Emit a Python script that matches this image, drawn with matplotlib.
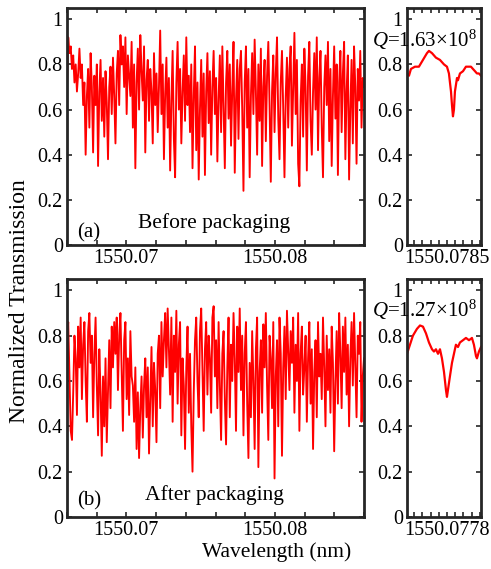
import numpy as np
import matplotlib
matplotlib.use("Agg")
import matplotlib.pyplot as plt
from matplotlib.ticker import FixedLocator, FixedFormatter

plt.rcParams['font.family'] = ['Liberation Serif', 'DejaVu Serif']
plt.rcParams['mathtext.fontset'] = 'custom'
plt.rcParams['mathtext.rm'] = 'Liberation Serif'
plt.rcParams['mathtext.it'] = 'Liberation Serif:italic'

# ---------------- data ----------------
wl_start, wl_end = 1550.065, 1550.085

trans_before = [
    0.70, 0.92, 0.85, 0.88, 0.78, 0.84, 0.72, 0.80, 0.68, 0.76, 0.87, 0.74, 0.80, 0.62, 0.72, 0.40, 0.66, 0.78, 0.52, 0.85,
    0.70, 0.41, 0.75, 0.62, 0.80, 0.35, 0.68, 0.82, 0.55, 0.74, 0.48, 0.77, 0.63, 0.38, 0.70, 0.79, 0.58, 0.83, 0.66, 0.45,
    0.76, 0.86, 0.62, 0.93, 0.80, 0.88, 0.70, 0.92, 0.58, 0.84, 0.75, 0.66, 0.90, 0.52, 0.80, 0.34, 0.72, 0.87, 0.60, 0.93,
    0.77, 0.64, 0.88, 0.41, 0.73, 0.82, 0.55, 0.78, 0.68, 0.45, 0.85, 0.62, 0.76, 0.50, 0.70, 0.95, 0.58, 0.80, 0.38, 0.67,
    0.83, 0.52, 0.74, 0.33, 0.64, 0.86, 0.47, 0.30, 0.72, 0.90, 0.60, 0.78, 0.45, 0.68, 0.84, 0.55, 0.92, 0.62, 0.75, 0.50,
    0.80, 0.34, 0.66, 0.88, 0.42, 0.72, 0.29, 0.60, 0.82, 0.48, 0.76, 0.31, 0.68, 0.85, 0.54, 0.77, 0.40, 0.70, 0.86, 0.58,
    0.74, 0.37, 0.65, 0.84, 0.50, 0.88, 0.62, 0.34, 0.72, 0.86, 0.56, 0.80, 0.44, 0.69, 0.90, 0.32, 0.64, 0.82, 0.47, 0.78,
    0.86, 0.60, 0.24, 0.72, 0.88, 0.52, 0.78, 0.30, 0.66, 0.85, 0.58, 0.91, 0.68, 0.40, 0.80, 0.55, 0.87, 0.35, 0.70, 0.82,
    0.46, 0.75, 0.90, 0.62, 0.28, 0.68, 0.84, 0.50, 0.76, 0.92, 0.56, 0.38, 0.72, 0.86, 0.60, 0.30, 0.66, 0.83, 0.52, 0.78,
    0.88, 0.44, 0.70, 0.94, 0.58, 0.82, 0.36, 0.26, 0.64, 0.80, 0.48, 0.87, 0.70, 0.33, 0.75, 0.90, 0.55, 0.40, 0.68, 0.85,
    0.60, 0.92, 0.42, 0.74, 0.86, 0.52, 0.30, 0.70, 0.84, 0.62, 0.90, 0.46, 0.78, 0.35, 0.66, 0.88, 0.56, 0.80, 0.31, 0.72,
    0.86, 0.50, 0.76, 0.90, 0.38, 0.68, 0.84, 0.29, 0.60, 0.82, 0.45, 0.88, 0.70, 0.36, 0.78, 0.64, 0.86, 0.52, 0.74, 0.70,
]

trans_after = [
    0.78, 0.86, 0.62, 0.38, 0.34, 0.55, 0.80, 0.70, 0.45, 0.84, 0.66, 0.88, 0.52, 0.76, 0.86, 0.60, 0.42, 0.82, 0.90, 0.68,
    0.80, 0.44, 0.72, 0.88, 0.58, 0.36, 0.74, 0.55, 0.27, 0.62, 0.40, 0.70, 0.33, 0.56, 0.78, 0.48, 0.84, 0.66, 0.86, 0.72,
    0.88, 0.56, 0.80, 0.90, 0.64, 0.38, 0.78, 0.86, 0.52, 0.70, 0.45, 0.82, 0.62, 0.58, 0.42, 0.66, 0.30, 0.55, 0.26, 0.48,
    0.62, 0.35, 0.58, 0.70, 0.44, 0.66, 0.28, 0.52, 0.75, 0.40, 0.68, 0.56, 0.33, 0.72, 0.80, 0.48, 0.86, 0.62, 0.78, 0.90,
    0.66, 0.92, 0.74, 0.54, 0.88, 0.42, 0.80, 0.64, 0.91, 0.50, 0.76, 0.86, 0.36, 0.70, 0.58, 0.30, 0.66, 0.84, 0.46, 0.72,
    0.40, 0.20, 0.55, 0.78, 0.88, 0.60, 0.44, 0.82, 0.92, 0.66, 0.38, 0.74, 0.86, 0.54, 0.80, 0.70, 0.46, 0.88, 0.93, 0.62,
    0.78, 0.48, 0.86, 0.58, 0.34, 0.72, 0.82, 0.52, 0.32, 0.66, 0.88, 0.44, 0.76, 0.60, 0.90, 0.70, 0.38, 0.84, 0.64, 0.92,
    0.56, 0.80, 0.36, 0.72, 0.86, 0.50, 0.26, 0.68, 0.44, 0.82, 0.60, 0.30, 0.74, 0.88, 0.22, 0.64, 0.78, 0.46, 0.85, 0.66,
    0.90, 0.58, 0.34, 0.80, 0.70, 0.48, 0.86, 0.17, 0.62, 0.78, 0.40, 0.88, 0.72, 0.27, 0.66, 0.84, 0.52, 0.91, 0.74, 0.56,
    0.82, 0.68, 0.88, 0.46, 0.76, 0.60, 0.90, 0.38, 0.72, 0.84, 0.54, 0.66, 0.80, 0.42, 0.70, 0.86, 0.50, 0.74, 0.30, 0.64,
    0.78, 0.44, 0.86, 0.62, 0.72, 0.52, 0.88, 0.66, 0.40, 0.80, 0.56, 0.74, 0.46, 0.84, 0.68, 0.29, 0.60, 0.82, 0.50, 0.90,
    0.72, 0.48, 0.84, 0.64, 0.88, 0.54, 0.76, 0.40, 0.70, 0.86, 0.58, 0.90, 0.66, 0.44, 0.80, 0.72, 0.86, 0.42, 0.62, 0.70,
]

# zoomed resonance, before packaging (offset in fm from centre wavelength)
zoom_a_center = 1550.0785
zoom_a_offset_fm = [-48.6, -46.2, -43.8, -38.9, -34.1, -29.2, -24.3, -21.9, -18.2, -13.4, -8.5, -3.6, 0.0,
                    2.4, 4.9, 6.1, 7.3, 8.5, 9.7, 12.2, 13.4, 15.8, 19.5, 23.1, 25.5, 29.2, 31.6, 34.1, 36.5, 38.9, 41.4]
zoom_a_trans = [0.76, 0.75, 0.78, 0.79, 0.79, 0.82, 0.85, 0.86, 0.85, 0.83, 0.82, 0.80, 0.79,
                0.76, 0.68, 0.62, 0.57, 0.60, 0.68, 0.74, 0.73, 0.76, 0.77, 0.79, 0.79, 0.79, 0.78, 0.77, 0.76, 0.76, 0.75]

# zoomed resonance, after packaging
zoom_b_center = 1550.0778
zoom_b_px = [407, 410, 413, 417, 420, 423, 426, 429, 432, 434, 436, 438, 440, 442, 444, 446, 447,
             448, 450, 452, 454, 456, 458, 460, 463, 466, 469, 472, 474, 476, 477, 479, 481]
zoom_b_offset_fm = [round((p - 447) * 1.2162, 1) for p in zoom_b_px]
zoom_b_trans = [0.72, 0.76, 0.80, 0.83, 0.845, 0.84, 0.81, 0.77, 0.74, 0.73, 0.74, 0.72, 0.74, 0.70, 0.64, 0.56, 0.53,
                0.56, 0.62, 0.68, 0.72, 0.76, 0.75, 0.77, 0.78, 0.79, 0.78, 0.79, 0.76, 0.71, 0.70, 0.73, 0.75]

q_labels = ["1.63", "1.27"]
panel_labels = ["(a)", "(b)"]
panel_titles = ["Before packaging", "After packaging"]

# ---------------- figure ----------------
W, H = 491, 569
fig = plt.figure(figsize=(W / 100, H / 100), dpi=100)

def ax_px(x0, y0, x1, y1):
    return fig.add_axes([x0 / W, 1 - y1 / H, (x1 - x0) / W, (y1 - y0) / H])

FRAME = '#262626'
FS = 14.5

def style(ax):
    for s in ax.spines.values():
        s.set_linewidth(2.0)
        s.set_color(FRAME)
    ax.tick_params(direction='in', top=True, right=True, length=3.5, width=1.2,
                   color=FRAME, labelsize=FS, pad=3)
    ax.set_ylim(0, 1.05)
    ax.set_yticks([0, 0.2, 0.4, 0.6, 0.8, 1.0])
    ax.set_yticklabels(['0', '0.2', '0.4', '0.6', '0.8', '1'])

rows = [(8, 245), (279, 517)]
big = [trans_before, trans_after]
zoom_off = [zoom_a_offset_fm, zoom_b_offset_fm]
zoom_tr = [zoom_a_trans, zoom_b_trans]
zoom_c = [zoom_a_center, zoom_b_center]

for i, (y0, y1) in enumerate(rows):
    ax = ax_px(67, y0, 364, y1)
    style(ax)
    vals = np.array(big[i])
    x = np.linspace(wl_start, wl_end, len(vals))
    ax.plot(x, vals, color='#ff0000', lw=1.35)
    ax.set_xlim(wl_start, wl_end)
    xt = [wl_start + 0.002 * k for k in range(11)]
    ax.xaxis.set_major_locator(FixedLocator(xt))
    lab = ['' for _ in xt]
    lab[2] = '1550.07'
    lab[7] = '1550.08'
    ax.xaxis.set_major_formatter(FixedFormatter(lab))

    axz = ax_px(407, y0, 481, y1)
    style(axz)
    c = zoom_c[i]
    xz = c + np.array(zoom_off[i]) * 1e-6
    axz.plot(xz, zoom_tr[i], color='#ff0000', lw=1.6)
    axz.set_xlim(c - 48.6e-6, c + 41.4e-6)
    xtz = [c + k * 1e-5 for k in range(-4, 5)]
    axz.xaxis.set_major_locator(FixedLocator(xtz))
    labz = ['' for _ in xtz]
    labz[4] = f'{c:.4f}'
    axz.xaxis.set_major_formatter(FixedFormatter(labz))

    # annotations
    qy = 47 if i == 0 else 317
    fig.text(372 / W, 1 - qy / H, r'$Q$=' + q_labels[i] + r'×10$^{8}$', fontsize=15, va='baseline', ha='left')
    by = 237 if i == 0 else 505
    fig.text(77 / W, 1 - by / H, panel_labels[i], fontsize=15, va='baseline', ha='left')
    ty = 228 if i == 0 else 500
    tx = 138 if i == 0 else 145
    fig.text(tx / W, 1 - ty / H, panel_titles[i], fontsize=15.5, va='baseline', ha='left')

fig.text(20 / W, 1 - 301 / H, 'Normalized Transmission', rotation=90, fontsize=17,
         ha='center', va='center')
fig.text(277 / W, 1 - 552 / H, 'Wavelength (nm)', fontsize=15.5, ha='center', va='center')

fig.savefig('out.png', dpi=100)
